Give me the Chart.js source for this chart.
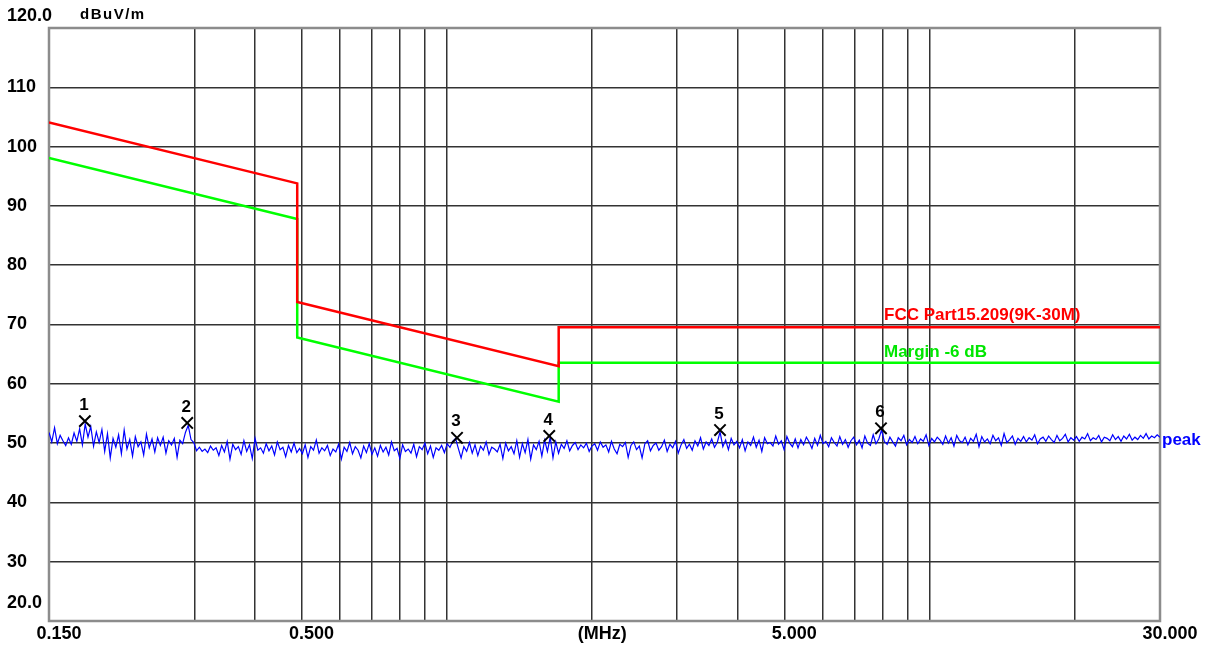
<!DOCTYPE html>
<html>
<head>
<meta charset="utf-8">
<script src="https://cdn.jsdelivr.net/npm/chart.js@4/dist/chart.umd.min.js"></script>
<style>
html, body { margin: 0; padding: 0; background: #fff; }
#wrap { width: 1211px; height: 646px; }
</style>
</head>
<body>
<div id="wrap"><canvas id="chart" width="1211" height="646"></canvas></div>
<script>
// Axes
const xGridMHz = [0.15, 0.3, 0.4, 0.5, 0.6, 0.7, 0.8, 0.9, 1, 2, 3, 4, 5, 6, 7, 8, 9, 10, 20, 30];
const xTickText = {0.15: '0.150', 0.5: '0.500', 2: '(MHz)', 5: '5.000', 30: '30.000'};
const yGrid = [20, 30, 40, 50, 60, 70, 80, 90, 100, 110, 120];

// FCC Part15.209 limit and margin line
const limitFreq = [0.15, 0.49, 0.49, 1.705, 1.705, 30];
const limitLevel = [104.08, 93.8, 73.8, 62.97, 69.54, 69.54];
const marginLevel = [98.08, 87.8, 67.8, 56.97, 63.54, 63.54];

// Peak trace (analyzer sweep 0.150 - 30 MHz, log spaced points)
const sweepStart = 0.15, sweepStop = 30;
const peakLevel = [
    51.8, 50.2, 52.6, 49.9, 51.3, 50.4, 49.6, 50.9, 49.8, 51.7,
    50.3, 52.4, 49.7, 53.2, 51.0, 52.8, 49.5, 51.9, 50.1, 52.3,
    48.6, 51.6, 47.5, 50.8, 49.3, 51.4, 48.2, 52.2, 49.0, 50.6,
    47.8, 51.1, 49.4, 50.2, 48.0, 51.5, 49.2, 50.7, 48.5, 50.9,
    49.6, 51.0, 48.3, 50.4, 49.7, 50.8, 47.6, 50.5, 49.9, 51.8,
    53.0, 50.6, 50.1, 48.7, 49.3, 48.6, 49.0, 48.4, 49.5, 48.8,
    49.2, 47.9, 49.6, 48.5, 50.3, 47.3, 49.8, 48.9, 49.4, 48.1,
    50.4, 48.6, 49.7, 47.4, 50.8, 48.8, 49.2, 48.3, 49.9, 48.7,
    49.5, 48.0, 50.2, 48.9, 49.3, 47.7, 49.6, 48.5, 50.0, 48.4,
    49.1, 48.2, 49.7, 47.6, 49.4, 48.8, 50.5, 48.3, 49.2, 48.7,
    49.6, 47.9, 49.0, 48.5, 49.8, 47.3, 49.3, 48.6, 50.1, 48.2,
    49.4, 48.8, 47.5, 49.5, 48.4, 49.9, 48.1, 49.2, 47.8, 49.6,
    48.5, 49.3, 48.0, 50.2, 48.7, 49.1, 47.4, 49.7, 48.6, 49.0,
    48.3, 49.8, 47.7, 49.4, 48.9, 50.0, 48.2, 49.5, 47.6, 49.2,
    48.8, 49.6, 48.4, 49.9, 49.3, 50.3, 50.8, 49.1, 47.5, 49.4,
    48.6, 50.1, 48.3, 49.7, 47.9, 49.5, 48.8, 50.2, 48.1, 49.3,
    49.0, 48.5, 49.8, 47.4, 50.0, 48.7, 49.4, 48.2, 50.4, 47.6,
    49.9, 48.4, 50.6, 47.3, 49.7, 48.9, 50.3, 47.8, 50.5, 48.6,
    51.0, 47.5, 50.2, 48.3, 49.8, 49.1, 50.4, 48.7, 49.6, 50.1,
    48.9, 49.7, 49.2, 50.0, 48.6, 49.5, 49.9, 48.8, 50.2, 49.3,
    49.7, 48.5, 50.3, 49.0, 48.2, 49.8, 49.4, 50.1, 47.6, 49.6,
    50.2, 48.9, 49.5, 47.5, 49.9, 50.4, 48.7, 49.6, 50.0, 48.8,
    49.4, 50.5, 48.6, 49.8, 49.2, 50.3, 48.3, 49.7, 50.6, 49.1,
    49.8, 48.8, 50.4, 49.5, 50.9, 49.0, 50.2, 49.6, 50.7, 49.3,
    50.1, 51.9, 49.4, 50.5, 48.9, 50.8, 49.7, 50.3, 49.2, 50.6,
    48.7, 50.2, 49.6, 51.0, 49.3, 50.5, 48.6, 50.9, 49.9, 50.1,
    49.5, 51.2, 49.8, 50.4, 48.9, 51.1, 50.0, 49.4, 50.7, 49.2,
    50.6, 49.7, 51.0, 50.2, 49.1, 50.8, 49.6, 51.3, 49.9, 50.3,
    49.4, 50.9, 50.1, 49.5, 51.1, 49.8, 50.6, 49.3, 50.4, 51.0,
    49.7, 50.5, 49.2, 51.2, 50.0, 49.6, 51.4, 49.9, 50.7, 52.2,
    50.3, 49.8, 51.0, 50.2, 49.5, 50.9, 50.4, 51.3, 49.7, 50.6,
    50.1, 51.1, 49.9, 50.7, 50.3, 51.4, 49.6, 50.8, 50.2, 51.0,
    50.5, 49.8, 51.2, 50.0, 50.9, 49.5, 51.3, 50.4, 50.1, 51.0,
    49.7, 50.8, 50.3, 51.5, 49.4, 51.1, 50.2, 50.7, 49.9, 51.3,
    50.4, 50.9, 49.6, 51.6, 50.1, 50.6, 51.2, 49.8, 50.8, 50.3,
    51.1, 50.2, 50.9, 50.5, 51.4, 49.9, 50.7, 51.0, 50.3, 51.2,
    50.6, 50.1, 51.3, 50.4, 50.8, 51.5, 50.2, 50.9, 50.5, 51.1,
    50.3, 51.0, 50.7, 51.6, 50.4, 50.9, 50.6, 51.3, 50.2, 51.0,
    50.8, 50.4, 51.4, 50.6, 51.1, 50.3, 51.2, 50.7, 51.5, 50.5,
    51.0, 50.6, 51.3, 50.8, 51.6, 50.7, 51.2, 50.9, 51.4, 51.0
];

// Marked peaks
const markerNo = ['1', '2', '3', '4', '5', '6'];
const markerFreq = [0.178, 0.290, 1.05, 1.63, 3.68, 7.93];
const markerLevel = [53.7, 53.4, 50.9, 51.2, 52.2, 52.5];

const FONT = 'Liberation Sans, Arial, sans-serif';

function toPoints(xs, ys) {
    return xs.map(function (x, i) { return {x: x, y: ys[i]}; });
}

var peakPoints = peakLevel.map(function (v, i) {
    var f = sweepStart * Math.pow(sweepStop / sweepStart, i / (peakLevel.length - 1));
    return {x: f, y: v};
});

// Frame, edge labels and texts
const decorPlugin = {
    id: 'decor',
    beforeDatasetsDraw: function (chart) {
        var a = chart.chartArea, ctx = chart.ctx;
        ctx.save();
        ctx.strokeStyle = '#8c8c8c';
        ctx.lineWidth = 2.5;
        ctx.strokeRect(a.left, a.top, a.right - a.left, a.bottom - a.top);
        ctx.restore();
    },
    afterDatasetsDraw: function (chart) {
        var ctx = chart.ctx, xs = chart.scales.x, ys = chart.scales.y;
        ctx.save();
        ctx.textBaseline = 'middle';
        ctx.fillStyle = '#000';
        ctx.font = 'bold 18px ' + FONT;
        ctx.textAlign = 'left';
        ctx.fillText('120.0', 7, ys.getPixelForValue(120) - 12);
        ctx.fillText('20.0', 7, ys.getPixelForValue(20) - 18);
        ctx.font = 'bold 15px ' + FONT;
        ctx.letterSpacing = '1.5px';
        ctx.fillText('dBuV/m', 80, 15);
        ctx.letterSpacing = '0px';

        // marker numbers
        ctx.font = 'bold 17px ' + FONT;
        ctx.textAlign = 'center';
        markerNo.forEach(function (n, i) {
            ctx.fillText(n, xs.getPixelForValue(markerFreq[i]) - 1, ys.getPixelForValue(markerLevel[i]) - 16);
        });

        // line names
        ctx.textAlign = 'left';
        ctx.font = 'bold 17px ' + FONT;
        ctx.fillStyle = '#ff0000';
        ctx.fillText('FCC Part15.209(9K-30M)', 884, 315);
        ctx.fillStyle = '#00e600';
        ctx.fillText('Margin -6 dB', 884, 352);
        ctx.fillStyle = '#0000ff';
        ctx.fillText('peak', 1162, 440);
        ctx.restore();
    }
};

new Chart(document.getElementById('chart'), {
    type: 'line',
    data: {
        datasets: [
            {
                type: 'scatter',
                label: 'markers',
                data: toPoints(markerFreq, markerLevel),
                pointStyle: 'crossRot',
                pointRadius: 8,
                borderColor: '#000',
                borderWidth: 2,
                showLine: false
            },
            {
                label: 'FCC Part15.209(9K-30M)',
                data: toPoints(limitFreq, limitLevel),
                borderColor: '#ff0000',
                borderWidth: 2.5,
                pointRadius: 0,
                tension: 0
            },
            {
                label: 'Margin -6 dB',
                data: toPoints(limitFreq, marginLevel),
                borderColor: '#00ff00',
                borderWidth: 2.5,
                pointRadius: 0,
                tension: 0
            },
            {
                label: 'peak',
                data: peakPoints,
                borderColor: '#0000ff',
                borderWidth: 1.2,
                pointRadius: 0,
                tension: 0
            }
        ]
    },
    options: {
        responsive: false,
        animation: false,
        layout: {padding: {top: 28, right: 51, left: 7, bottom: 0}},
        plugins: {legend: {display: false}, tooltip: {enabled: false}},
        scales: {
            x: {
                type: 'logarithmic',
                min: 0.15,
                max: 30,
                afterBuildTicks: function (scale) {
                    scale.ticks = xGridMHz.map(function (v) { return {value: v}; });
                },
                afterFit: function (scale) { scale.height = 25; },
                grid: {color: '#333', lineWidth: 1.5, drawTicks: false},
                border: {display: false},
                ticks: {
                    autoSkip: false,
                    maxRotation: 0,
                    padding: 2,
                    labelOffset: 10,
                    color: '#000',
                    font: {family: FONT, size: 18, weight: 'bold'},
                    callback: function (v) { return xTickText[v] || ''; }
                }
            },
            y: {
                min: 20,
                max: 120,
                afterBuildTicks: function (scale) {
                    scale.ticks = yGrid.map(function (v) { return {value: v}; });
                },
                afterFit: function (scale) { scale.width = 42; },
                grid: {color: '#333', lineWidth: 1.5, drawTicks: false},
                border: {display: false},
                ticks: {
                    crossAlign: 'far',
                    color: '#000',
                    font: {family: FONT, size: 18, weight: 'bold'},
                    callback: function (v) { return (v === 120 || v === 20) ? '' : String(v); }
                }
            }
        }
    },
    plugins: [decorPlugin]
});
</script>
</body>
</html>
